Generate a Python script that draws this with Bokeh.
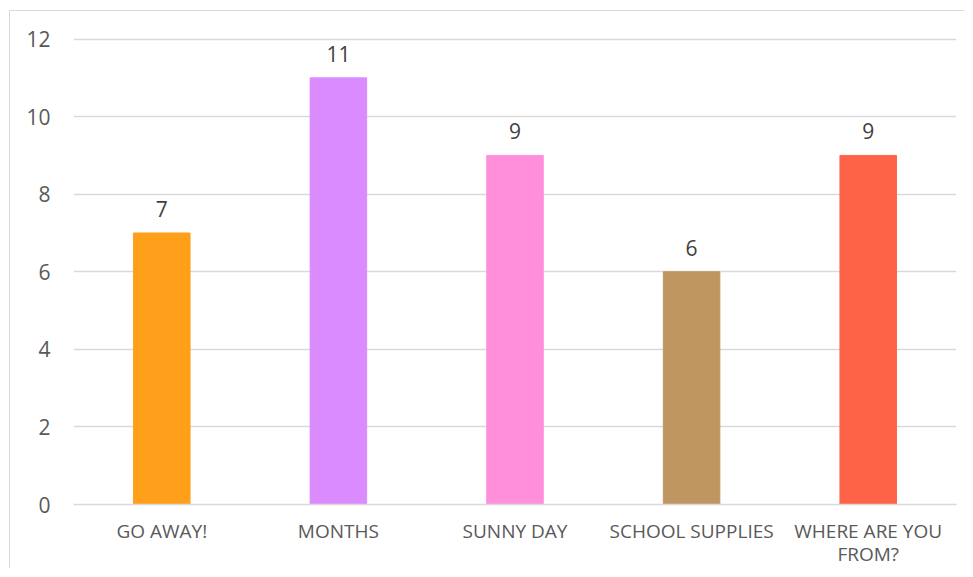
from bokeh.plotting import figure
from bokeh.models import ColumnDataSource, Range1d, LabelSet, FactorRange
from bokeh.core.properties import value
from bokeh.embed import file_html
from bokeh.resources import INLINE

categories = ["GO AWAY!", "MONTHS", "SUNNY DAY", "SCHOOL SUPPLIES", "WHERE ARE YOU\nFROM?"]
values = [7, 11, 9, 6, 9]
colors = ["#FF9F1A", "#DA8BFF", "#FF8FDA", "#BF9660", "#FF6347"]
labels = [str(v) for v in values]
y_ticks = [0, 2, 4, 6, 8, 10, 12]

src = ColumnDataSource(dict(cat=categories, val=values, color=colors, lab=labels))

p = figure(width=955, height=558, x_range=FactorRange(*categories), y_range=Range1d(0, 12.04),
           output_backend="svg", toolbar_location=None,
           min_border_left=63, min_border_top=26, min_border_bottom=65, min_border_right=9)
p.styles = {"margin-left": "9px", "margin-top": "10px",
            "border-left": "1px solid #d9d9d9", "border-top": "1px solid #d9d9d9"}
p.outline_line_color = None
p.x_range.range_padding = 0
p.vbar(x="cat", top="val", width=0.32, color="color", source=src)

p.add_layout(LabelSet(x="cat", y="val", text="lab", source=src, text_align="center",
                      text_baseline="bottom", y_offset=16, text_font_size="21px",
                      text_color="#404040", text_font=value("Open Sans")))

p.yaxis.ticker = y_ticks
p.ygrid.ticker = y_ticks
p.ygrid.grid_line_color = "#d9d9d9"
p.ygrid.grid_line_width = 1.5
p.xgrid.grid_line_color = None
for ax in (p.xaxis, p.yaxis):
    ax.axis_line_color = None
    ax.major_tick_line_color = None
    ax.minor_tick_line_color = None
    ax.major_label_text_color = "#595959"
    ax.major_label_text_font = "Open Sans"
p.xaxis.axis_line_color = "#d9d9d9"
p.xaxis.axis_line_width = 1.5
p.yaxis.major_label_text_font_size = "21px"
p.xaxis.major_label_text_font_size = "19px"
p.xaxis.major_label_text_line_height = 0.9
p.yaxis.major_label_standoff = 17
p.xaxis.major_label_standoff = 7

open("out.html", "w").write(file_html(p, INLINE))
